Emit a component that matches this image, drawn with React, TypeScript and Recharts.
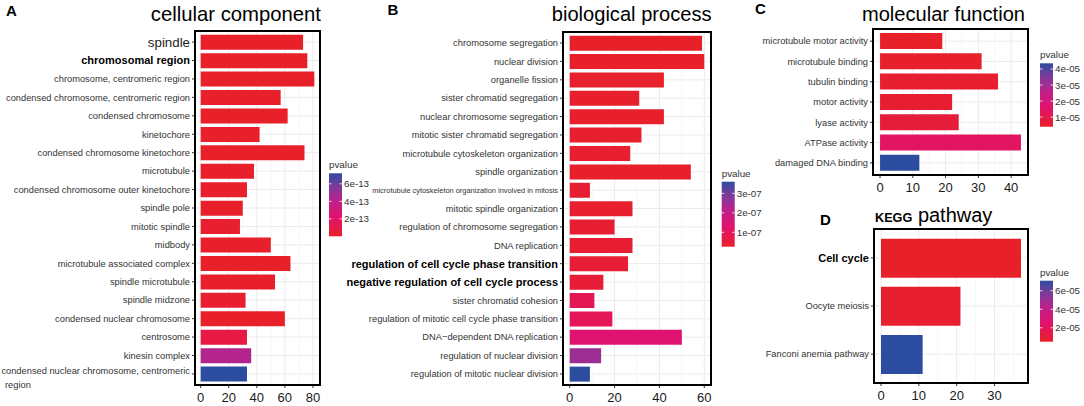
import React from "react";
import { BarChart, Bar, Cell, XAxis, YAxis, CartesianGrid } from "recharts";

const FONT = '"Liberation Sans", Arial, Helvetica, sans-serif';

// A - cellular component
const ccTerms = [
  "spindle",
  "chromosomal region",
  "chromosome, centromeric region",
  "condensed chromosome, centromeric region",
  "condensed chromosome",
  "kinetochore",
  "condensed chromosome kinetochore",
  "microtubule",
  "condensed chromosome outer kinetochore",
  "spindle pole",
  "mitotic spindle",
  "midbody",
  "microtubule associated complex",
  "spindle microtubule",
  "spindle midzone",
  "condensed nuclear chromosome",
  "centrosome",
  "kinesin complex",
  "condensed nuclear chromosome, centromeric region",
];
const ccCounts = [73, 76, 81, 57, 62, 42, 74, 38, 33, 30, 28, 50, 64, 53, 32, 60, 33, 36, 33];
const ccPvalues = [
  1e-15, 2e-15, 1e-15, 3e-15, 2e-15, 5e-15, 1e-15, 8e-15, 1.2e-14, 6e-15, 1.5e-14, 4e-15, 2e-15,
  3e-15, 2e-14, 1e-15, 9e-14, 4.3e-13, 7.2e-13,
];
const ccTicks = [0, 20, 40, 60, 80];
const ccBreaks = [2e-13, 4e-13, 6e-13];

// B - biological process
const bpTerms = [
  "chromosome segregation",
  "nuclear division",
  "organelle fission",
  "sister chromatid segregation",
  "nuclear chromosome segregation",
  "mitotic sister chromatid segregation",
  "microtubule cytoskeleton organization",
  "spindle organization",
  "microtubule cytoskeleton organization involved in mitosis",
  "mitotic spindle organization",
  "regulation of chromosome segregation",
  "DNA replication",
  "regulation of cell cycle phase transition",
  "negative regulation of cell cycle process",
  "sister chromatid cohesion",
  "regulation of mitotic cell cycle phase transition",
  "DNA\u2212dependent DNA replication",
  "regulation of nuclear division",
  "regulation of mitotic nuclear division",
];
const bpCounts = [59, 60, 42, 31, 42, 32, 27, 54, 9, 28, 20, 28, 26, 15, 11, 19, 50, 14, 9];
const bpPvalues = [
  2.6e-8, 2.7e-8, 2.9e-8, 3.1e-8, 3.0e-8, 3.3e-8, 3.5e-8, 2.8e-8, 3.8e-8, 3.4e-8, 4.0e-8, 3.9e-8,
  4.2e-8, 4.5e-8, 9.3e-8, 9.5e-8, 1.36e-7, 2.53e-7, 3.6e-7,
];
const bpTicks = [0, 20, 40, 60];
const bpBreaks = [1e-7, 2e-7, 3e-7];

// C - molecular function
const mfTerms = [
  "microtubule motor activity",
  "microtubule binding",
  "tubulin binding",
  "motor activity",
  "lyase activity",
  "ATPase activity",
  "damaged DNA binding",
];
const mfCounts = [19, 31, 36, 22, 24, 43, 12];
const mfPvalues = [4.0e-6, 4.5e-6, 5.0e-6, 5.5e-6, 7.0e-6, 1.4e-5, 4.36e-5];
const mfTicks = [0, 10, 20, 30, 40];
const mfBreaks = [1e-5, 2e-5, 3e-5, 4e-5];

// D - KEGG pathway
const keggTerms = ["Cell cycle", "Oocyte meiosis", "Fanconi anemia pathway"];
const keggCounts = [37, 21, 11];
const keggPvalues = [5.0e-6, 6.5e-6, 7.08e-5];
const keggTicks = [0, 10, 20, 30];
const keggBreaks = [2e-5, 4e-5, 6e-5];

// red -> blue fill scale, like the ggplot gradient
const STOPS: [number, string][] = [
  [0, "#e8202a"],
  [0.3, "#e2126c"],
  [0.55, "#c01f8a"],
  [0.8, "#7a3c9c"],
  [1, "#2c4ca0"],
];

function hex(c: string) {
  return [1, 3, 5].map((i) => parseInt(c.slice(i, i + 2), 16));
}

function pColor(t: number) {
  const v = Math.max(0, Math.min(1, t));
  for (let i = 1; i < STOPS.length; i++) {
    const [t0, c0] = STOPS[i - 1];
    const [t1, c1] = STOPS[i];
    if (v <= t1) {
      const f = (v - t0) / (t1 - t0);
      const a = hex(c0);
      const b = hex(c1);
      const rgb = a.map((x, k) => Math.round(x + (b[k] - x) * f));
      return `rgb(${rgb.join(",")})`;
    }
  }
  return STOPS[STOPS.length - 1][1];
}

function sci(v: number) {
  const [m, e] = v.toExponential(0).split("e");
  const n = Number(e);
  return `${m}e${n < 0 ? "-" : "+"}${String(Math.abs(n)).padStart(2, "0")}`;
}

type LabelStyle = { fontSize: number; fontWeight?: string; fill?: string };
const PLAIN: LabelStyle = { fontSize: 9.3, fill: "#333" };

const ccEmphasis: Record<string, LabelStyle> = {
  spindle: { fontSize: 13.3, fill: "#222" },
  "chromosomal region": { fontSize: 11, fontWeight: "bold", fill: "#000" },
};
const bpEmphasis: Record<string, LabelStyle> = {
  "microtubule cytoskeleton organization involved in mitosis": { fontSize: 7.4, fill: "#333" },
  "regulation of cell cycle phase transition": { fontSize: 11, fontWeight: "bold", fill: "#000" },
  "negative regulation of cell cycle process": { fontSize: 11, fontWeight: "bold", fill: "#000" },
};
const keggEmphasis: Record<string, LabelStyle> = {
  "Cell cycle": { fontSize: 11, fontWeight: "bold", fill: "#000" },
};

function TermTick(props: any) {
  const { x, y, payload, emphasis, wrapAt } = props;
  const label = String(payload.value);
  const st = emphasis[label] ?? PLAIN;
  const common = {
    fontFamily: FONT,
    fontSize: st.fontSize,
    fontWeight: st.fontWeight ?? "normal",
    fill: st.fill ?? "#333",
  };
  if (wrapAt && label.length > wrapAt) {
    const cut = label.lastIndexOf(" ", wrapAt);
    return (
      <text {...common}>
        <tspan x={x} y={y - 3} dy="0.35em" textAnchor="end">
          {label.slice(0, cut)}
        </tspan>
        <tspan x={x - 185} y={y + 11} dy="0.35em" textAnchor="start">
          {label.slice(cut + 1)}
        </tspan>
      </text>
    );
  }
  return (
    <text {...common} x={x} y={y} dy="0.35em" textAnchor="end">
      {label}
    </text>
  );
}

type PanelProps = {
  terms: string[];
  counts: number[];
  pvalues: number[];
  ticks: number[];
  left: number;
  top: number;
  width: number;
  height: number;
  marginTop: number;
  yWidth: number;
  emphasis: Record<string, LabelStyle>;
  wrapAt?: number;
};

function GoPanel(p: PanelProps) {
  const data = p.terms.map((name, i) => ({ name, count: p.counts[i], pv: p.pvalues[i] }));
  const max = Math.max(...p.counts);
  const domain = [-0.05 * max, 1.05 * max];
  const step = p.ticks[1] - p.ticks[0];
  const minor = p.ticks.map((t) => t + step / 2).filter((t) => t < domain[1]);
  const lo = Math.min(...p.pvalues);
  const hi = Math.max(...p.pvalues);
  const xH = 21;
  const right = 2;
  const plotW = p.width - p.yWidth - right;
  const plotH = p.height - p.marginTop - xH;
  const pad = (plotH * 0.1) / (p.terms.length + 0.2);

  return (
    <div style={{ position: "absolute", left: p.left, top: p.top, width: p.width, height: p.height }}>
      <BarChart
        width={p.width}
        height={p.height}
        layout="vertical"
        data={data}
        margin={{ top: p.marginTop, right, bottom: 0, left: 0 }}
        barCategoryGap="10%"
      >
        <CartesianGrid stroke="#ebebeb" strokeWidth={1} />
        <CartesianGrid xAxisId="minor" horizontal={false} stroke="#f4f4f4" strokeWidth={0.7} />
        <XAxis
          type="number"
          dataKey="count"
          domain={domain}
          ticks={p.ticks}
          allowDataOverflow
          interval={0}
          height={xH}
          tickSize={3}
          tickMargin={5}
          axisLine={false}
          tickLine={{ stroke: "#333" }}
          tick={{ fontSize: 13, fill: "#1a1a1a", fontFamily: FONT }}
        />
        <XAxis xAxisId="minor" type="number" domain={domain} ticks={minor} allowDataOverflow hide />
        <YAxis
          type="category"
          dataKey="name"
          width={p.yWidth}
          interval={0}
          tickSize={3}
          tickMargin={2}
          axisLine={false}
          tickLine={{ stroke: "#333" }}
          padding={{ top: pad, bottom: pad }}
          tick={(tp: any) => <TermTick {...tp} emphasis={p.emphasis} wrapAt={p.wrapAt} />}
        />
        <Bar dataKey="count" isAnimationActive={false}>
          {data.map((d, i) => (
            <Cell key={i} fill={pColor((d.pv - lo) / (hi - lo))} />
          ))}
        </Bar>
      </BarChart>
      <div
        style={{
          position: "absolute",
          left: p.yWidth - 1,
          top: p.marginTop - 1,
          width: plotW + 2,
          height: plotH + 2,
          border: "2px solid #000",
          boxSizing: "border-box",
          pointerEvents: "none",
        }}
      />
    </div>
  );
}

function ColorBar(props: {
  id: string;
  x: number;
  y: number;
  h: number;
  pvalues: number[];
  breaks: number[];
}) {
  const { id, x, y, h, pvalues, breaks } = props;
  const w = 13;
  const lo = Math.min(...pvalues);
  const hi = Math.max(...pvalues);
  return (
    <g fontFamily={FONT}>
      <defs>
        <linearGradient id={id} x1="0" y1="1" x2="0" y2="0">
          {STOPS.map(([t, c]) => (
            <stop key={t} offset={t} stopColor={c} />
          ))}
        </linearGradient>
      </defs>
      <text x={x} y={y - 5} fontSize={9.8} fill="#333">
        pvalue
      </text>
      <rect x={x} y={y} width={w} height={h} fill={`url(#${id})`} />
      {breaks.map((b) => {
        const yy = y + (h * (hi - b)) / (hi - lo);
        return (
          <g key={b}>
            <line x1={x} x2={x + 2.5} y1={yy} y2={yy} stroke="#fff" strokeWidth={0.8} />
            <line x1={x + w - 2.5} x2={x + w} y1={yy} y2={yy} stroke="#fff" strokeWidth={0.8} />
            <text x={x + w + 2} y={yy} dy="0.35em" fontSize={9.8} fill="#333">
              {sci(b)}
            </text>
          </g>
        );
      })}
    </g>
  );
}

export default function App() {
  return (
    <div
      style={{
        position: "absolute",
        left: 0,
        top: 0,
        width: 1084,
        height: 406,
        background: "#fff",
        fontFamily: FONT,
        overflow: "hidden",
      }}
    >
      <GoPanel
        terms={ccTerms}
        counts={ccCounts}
        pvalues={ccPvalues}
        ticks={ccTicks}
        left={0}
        top={0}
        width={322}
        height={406}
        marginTop={31}
        yWidth={195}
        emphasis={ccEmphasis}
        wrapAt={44}
      />
      <GoPanel
        terms={bpTerms}
        counts={bpCounts}
        pvalues={bpPvalues}
        ticks={bpTicks}
        left={338}
        top={0}
        width={375}
        height={406}
        marginTop={32}
        yWidth={225}
        emphasis={bpEmphasis}
      />
      <GoPanel
        terms={mfTerms}
        counts={mfCounts}
        pvalues={mfPvalues}
        ticks={mfTicks}
        left={740}
        top={0}
        width={290}
        height={196}
        marginTop={29}
        yWidth={133}
        emphasis={{}}
      />
      <GoPanel
        terms={keggTerms}
        counts={keggCounts}
        pvalues={keggPvalues}
        ticks={keggTicks}
        left={740}
        top={200}
        width={290}
        height={204}
        marginTop={29}
        yWidth={134}
        emphasis={keggEmphasis}
      />
      <svg
        width={1084}
        height={406}
        style={{ position: "absolute", left: 0, top: 0, pointerEvents: "none" }}
        fontFamily={FONT}
      >
        <g fontWeight="bold" fontSize={15} fill="#000">
          <text x={6} y={15.5}>A</text>
          <text x={387.5} y={14.5}>B</text>
          <text x={755} y={13.5}>C</text>
          <text x={820} y={224.5}>D</text>
        </g>
        <g fill="#000">
          <text x={321} y={21} textAnchor="end" fontSize={20.3}>
            cellular component
          </text>
          <text x={711.5} y={21} textAnchor="end" fontSize={20.1}>
            biological process
          </text>
          <text x={1025} y={21} textAnchor="end" fontSize={20.1}>
            molecular function
          </text>
          <text x={875} y={221.7}>
            <tspan fontSize={12.7} fontWeight="bold">KEGG</tspan>
            <tspan dx={5.5} fontSize={20}>pathway</tspan>
          </text>
        </g>
        <ColorBar id="gA" x={329} y={173.3} h={63} pvalues={ccPvalues} breaks={ccBreaks} />
        <ColorBar id="gB" x={721.7} y={181.7} h={65} pvalues={bpPvalues} breaks={bpBreaks} />
        <ColorBar id="gC" x={1040} y={63.3} h={63.4} pvalues={mfPvalues} breaks={mfBreaks} />
        <ColorBar id="gD" x={1040} y={280.7} h={61} pvalues={keggPvalues} breaks={keggBreaks} />
      </svg>
    </div>
  );
}
